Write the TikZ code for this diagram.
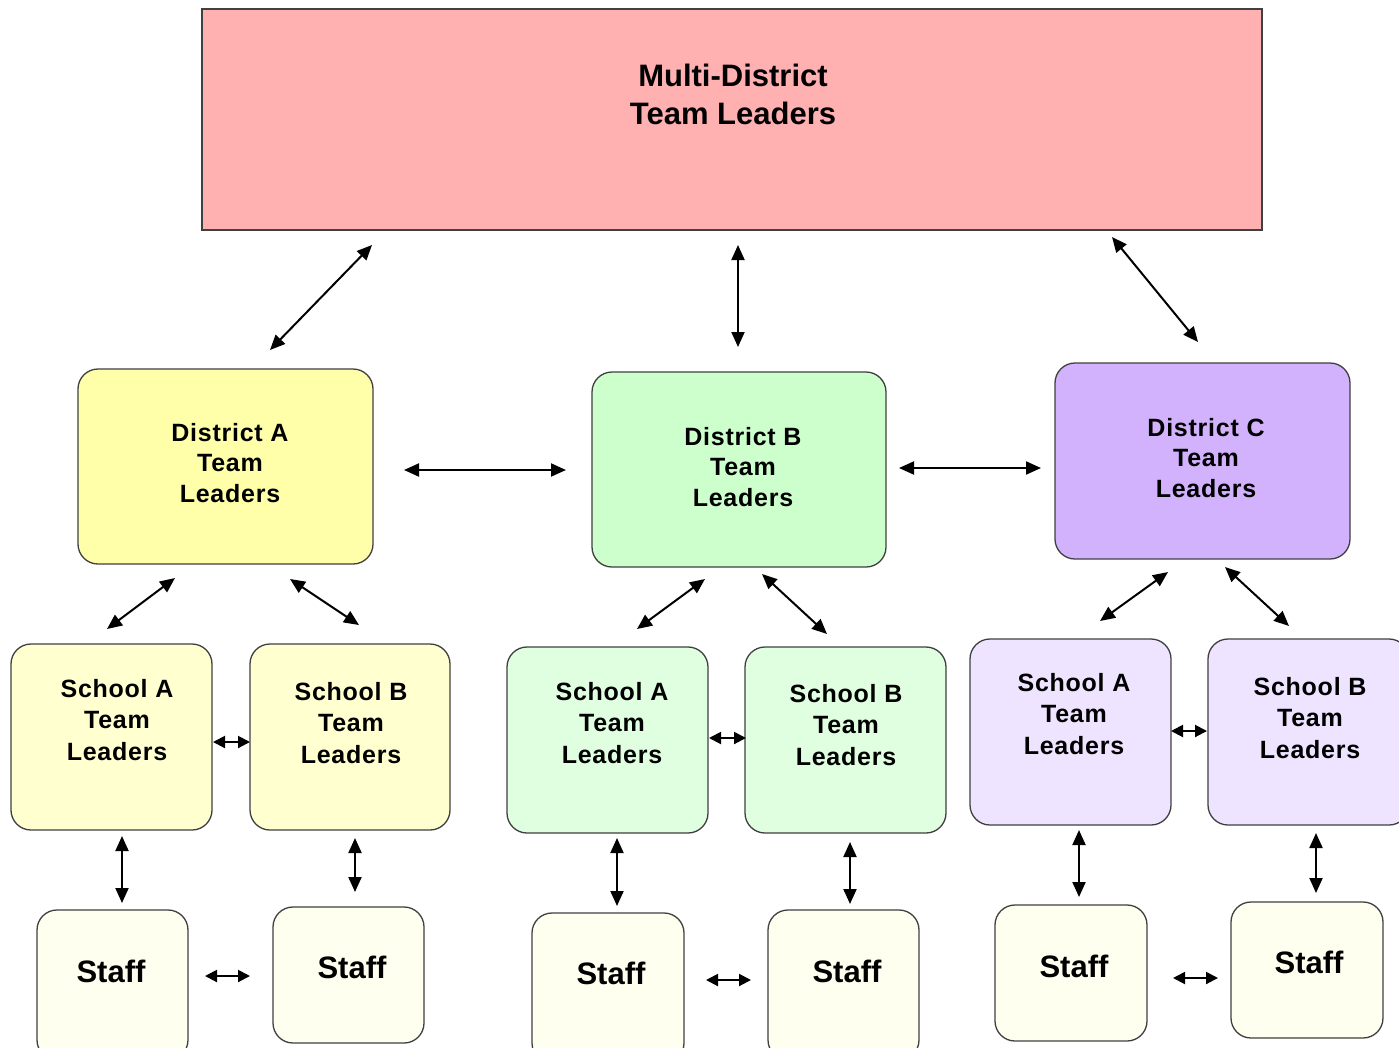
\documentclass[tikz,border=0pt]{standalone}
\usepackage{fontspec}
\setmainfont{Liberation Sans}
\newfontfamily\boxfont{Liberation Sans}[LetterSpace=3]
\usetikzlibrary{arrows.meta}
\definecolor{toppink}{HTML}{FFB0B0}
\definecolor{dyellow}{HTML}{FFFFAA}
\definecolor{dgreen}{HTML}{CCFFCC}
\definecolor{dpurple}{HTML}{D2B2FC}
\definecolor{syellow}{HTML}{FFFFD0}
\definecolor{sgreen}{HTML}{DFFFE0}
\definecolor{spurple}{HTML}{EFE4FF}
\definecolor{staffc}{HTML}{FFFFF0}
\definecolor{edge}{HTML}{404040}
\tikzset{
  box/.style={draw=edge, line width=1.3pt, rounded corners=20pt, inner sep=0pt},
  topbox/.style={draw=edge, line width=1.3pt, inner sep=0pt, fill=toppink},
  dtext/.style={font=\boxfont\bfseries\fontsize{25}{30.5}\selectfont, align=center, inner sep=0pt},
  stext/.style={font=\boxfont\bfseries\fontsize{25}{31.5}\selectfont, align=center, inner sep=0pt},
  stafftext/.style={font=\bfseries\fontsize{31}{36}\selectfont, inner sep=0pt},
  toptext/.style={font=\bfseries\fontsize{31}{38}\selectfont, align=center, inner sep=0pt},
  arr/.style={line width=2pt, {Triangle[length=15pt,width=13pt]}-{Triangle[length=15pt,width=13pt]}},
  sarr/.style={line width=2pt, {Triangle[length=12pt,width=12pt]}-{Triangle[length=12pt,width=12pt]}}
}
\begin{document}
\begin{tikzpicture}[x=1pt,y=-1pt]
\useasboundingbox (0,0) rectangle (1399,1047);
\clip (0,0) rectangle (1399,1047);
\fill[white] (0,0) rectangle (1399,1047);
% top box
\node[topbox, minimum width=1060pt, minimum height=221pt] (top) at (732,119.5) {};
\node[toptext] (topt) at (733,94) {Multi-District\\Team Leaders};
% districts
\node[box, fill=dyellow, minimum width=295pt, minimum height=195pt] (dA) at (225.5,466.5) {};
\node[dtext] (dAt) at (230,463) {District A\\Team\\Leaders};
\node[box, fill=dgreen, minimum width=294pt, minimum height=195pt] (dB) at (739,469.5) {};
\node[dtext] (dBt) at (743,467) {District B\\Team\\Leaders};
\node[box, fill=dpurple, minimum width=295pt, minimum height=196pt] (dC) at (1202.5,461) {};
\node[dtext] (dCt) at (1206,458) {District C\\Team\\Leaders};
% schools
\node[box, fill=syellow, minimum width=201pt, minimum height=186pt] (yA) at (111.5,737) {};
\node[stext] (yAt) at (117,720) {School A\\Team\\Leaders};
\node[box, fill=syellow, minimum width=200pt, minimum height=186pt] (yB) at (350,737) {};
\node[stext] (yBt) at (351,723) {School B\\Team\\Leaders};
\node[box, fill=sgreen, minimum width=201pt, minimum height=186pt] (gA) at (607.5,740) {};
\node[stext] (gAt) at (612,723) {School A\\Team\\Leaders};
\node[box, fill=sgreen, minimum width=201pt, minimum height=186pt] (gB) at (845.5,740) {};
\node[stext] (gBt) at (846,725) {School B\\Team\\Leaders};
\node[box, fill=spurple, minimum width=201pt, minimum height=186pt] (pA) at (1070.5,732) {};
\node[stext] (pAt) at (1074,714) {School A\\Team\\Leaders};
\node[box, fill=spurple, minimum width=201pt, minimum height=186pt] (pB) at (1308.5,732) {};
\node[stext] (pBt) at (1310,718) {School B\\Team\\Leaders};
% staff
\node[box, fill=staffc, minimum width=151pt, minimum height=150pt] (s1) at (112.5,985) {};
\node[stafftext] (s1t) at (111,971) {Staff};
\node[box, fill=staffc, minimum width=151pt, minimum height=136pt] (s2) at (348.5,975) {};
\node[stafftext] (s2t) at (352,967) {Staff};
\node[box, fill=staffc, minimum width=152pt, minimum height=150pt] (s3) at (608,988) {};
\node[stafftext] (s3t) at (611,973) {Staff};
\node[box, fill=staffc, minimum width=151pt, minimum height=150pt] (s4) at (843.5,985) {};
\node[stafftext] (s4t) at (847,971) {Staff};
\node[box, fill=staffc, minimum width=152pt, minimum height=136pt] (s5) at (1071,973) {};
\node[stafftext] (s5t) at (1074,966) {Staff};
\node[box, fill=staffc, minimum width=152pt, minimum height=136pt] (s6) at (1307,970) {};
\node[stafftext] (s6t) at (1309,962) {Staff};
% arrow end points
\coordinate (t1a) at (372,245); \coordinate (t1b) at (270,350);
\coordinate (t2a) at (738,245); \coordinate (t2b) at (738,347);
\coordinate (t3a) at (1112,237); \coordinate (t3b) at (1198,342);
\coordinate (ab1) at (404,470); \coordinate (ab2) at (566,470);
\coordinate (bc1) at (899,468); \coordinate (bc2) at (1041,468);
\coordinate (da1) at (175,578); \coordinate (da2) at (107,629);
\coordinate (da3) at (290,579); \coordinate (da4) at (359,625);
\coordinate (db1) at (705,579); \coordinate (db2) at (637,629);
\coordinate (db3) at (762,574); \coordinate (db4) at (827,634);
\coordinate (dc1) at (1168,572); \coordinate (dc2) at (1100,621);
\coordinate (dc3) at (1225,567); \coordinate (dc4) at (1289,626);
\coordinate (yy1) at (213,742); \coordinate (yy2) at (250,742);
\coordinate (gg1) at (709,738); \coordinate (gg2) at (746,738);
\coordinate (pp1) at (1171,731); \coordinate (pp2) at (1207,731);
\coordinate (ys1) at (122,836); \coordinate (ys2) at (122,903);
\coordinate (ys3) at (355,838); \coordinate (ys4) at (355,892);
\coordinate (gs1) at (617,838); \coordinate (gs2) at (617,906);
\coordinate (gs3) at (850,842); \coordinate (gs4) at (850,904);
\coordinate (ps1) at (1079,830); \coordinate (ps2) at (1079,897);
\coordinate (ps3) at (1316,833); \coordinate (ps4) at (1316,893);
\coordinate (st1) at (205,976); \coordinate (st2) at (250,976);
\coordinate (st3) at (706,980); \coordinate (st4) at (751,980);
\coordinate (st5) at (1173,978); \coordinate (st6) at (1218,978);
% arrows
\draw[arr] (t1a) -- (t1b);
\draw[arr] (t2a) -- (t2b);
\draw[arr] (t3a) -- (t3b);
\draw[arr] (ab1) -- (ab2);
\draw[arr] (bc1) -- (bc2);
\draw[arr] (da1) -- (da2);
\draw[arr] (da3) -- (da4);
\draw[arr] (db1) -- (db2);
\draw[arr] (db3) -- (db4);
\draw[arr] (dc1) -- (dc2);
\draw[arr] (dc3) -- (dc4);
\draw[sarr] (yy1) -- (yy2);
\draw[sarr] (gg1) -- (gg2);
\draw[sarr] (pp1) -- (pp2);
\draw[arr] (ys1) -- (ys2);
\draw[arr] (ys3) -- (ys4);
\draw[arr] (gs1) -- (gs2);
\draw[arr] (gs3) -- (gs4);
\draw[arr] (ps1) -- (ps2);
\draw[arr] (ps3) -- (ps4);
\draw[sarr] (st1) -- (st2);
\draw[sarr] (st3) -- (st4);
\draw[sarr] (st5) -- (st6);
\end{tikzpicture}
\end{document}
